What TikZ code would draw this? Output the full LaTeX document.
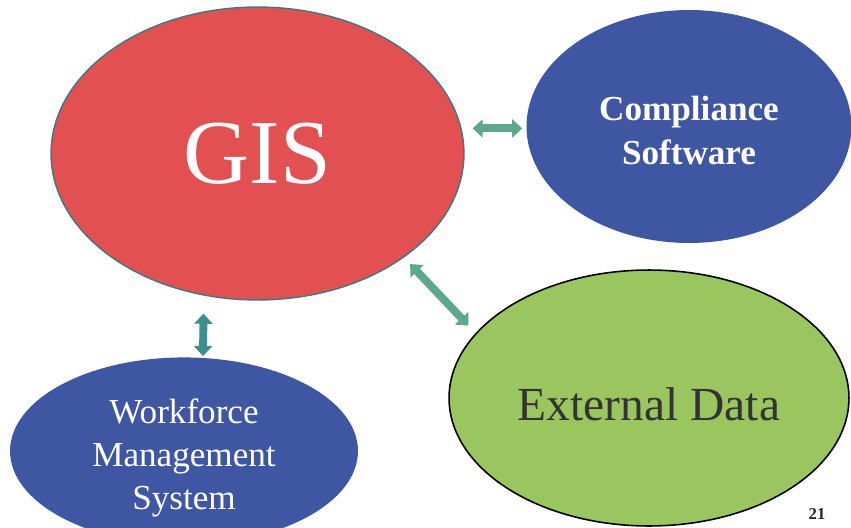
\documentclass[tikz,border=0pt]{standalone}
\usepackage{fontspec}
\setmainfont{Liberation Serif}
\usetikzlibrary{shapes.geometric, arrows.meta, positioning}

\definecolor{gisred}{HTML}{E35052}
\definecolor{sysblue}{HTML}{3F56A2}
\definecolor{extgreen}{HTML}{9BC55E}
\definecolor{linkgreen}{HTML}{5DA88B}
\definecolor{linkteal}{HTML}{3E8E8E}
\definecolor{rimteal}{HTML}{3A7A80}

\begin{document}
\begin{tikzpicture}[x=0.02cm, y=-0.02cm,
  blob/.style={ellipse, inner sep=0pt, align=center, text=white},
  link/.style={line width=4.5pt, draw=linkgreen, {Triangle[length=5.7pt,width=10.2pt]}-{Triangle[length=5.7pt,width=10.2pt]}},
  vlink/.style={link, draw=linkteal}]
\useasboundingbox (0,0) rectangle (851,527);

% GIS
\node[blob, fill=gisred, draw=rimteal, line width=0.8pt, minimum width=8.26cm, minimum height=5.86cm,
  font=\fontsize{52}{60}\selectfont] (gis) at (257.5,153.5) {GIS};

% Compliance Software
\node[blob, fill=sysblue, minimum width=6.5cm, minimum height=4.66cm,
  font=\fontsize{20}{25.5}\selectfont\bfseries] (comp) at (689,126.5) {\rule{0pt}{18.5pt}Compliance\\Software};

% External Data
\node[blob, fill=extgreen, draw=black, line width=0.9pt, text=black!80, minimum width=8cm, minimum height=5.12cm,
  font=\fontsize{27}{32}\selectfont] (ext) at (649,398) {\rule{0pt}{26pt}External Data};

% Workforce Management System
\node[blob, fill=sysblue, minimum width=6.96cm, minimum height=3.04cm,
  font=\fontsize{20}{24.5}\selectfont] (wfm) at (184,451) {\rule{0pt}{22pt}Workforce\\Management\\System};

% links
\draw[link, shorten <=0.22cm, shorten >=0.08cm] (gis.7) -- (gis.7 -| comp.west);
\draw[link, shorten <=0.18cm] (gis.south east) -- ++(64.5,68);
\draw[vlink] ([shift={(19,-1)}]wfm.north) -- ([shift={(-54,13)}]gis.south);

% page number
\node[font=\fontsize{9.5}{11}\selectfont\bfseries, text=black!85] (pg) at (817,514) {21};
\end{tikzpicture}
\end{document}
